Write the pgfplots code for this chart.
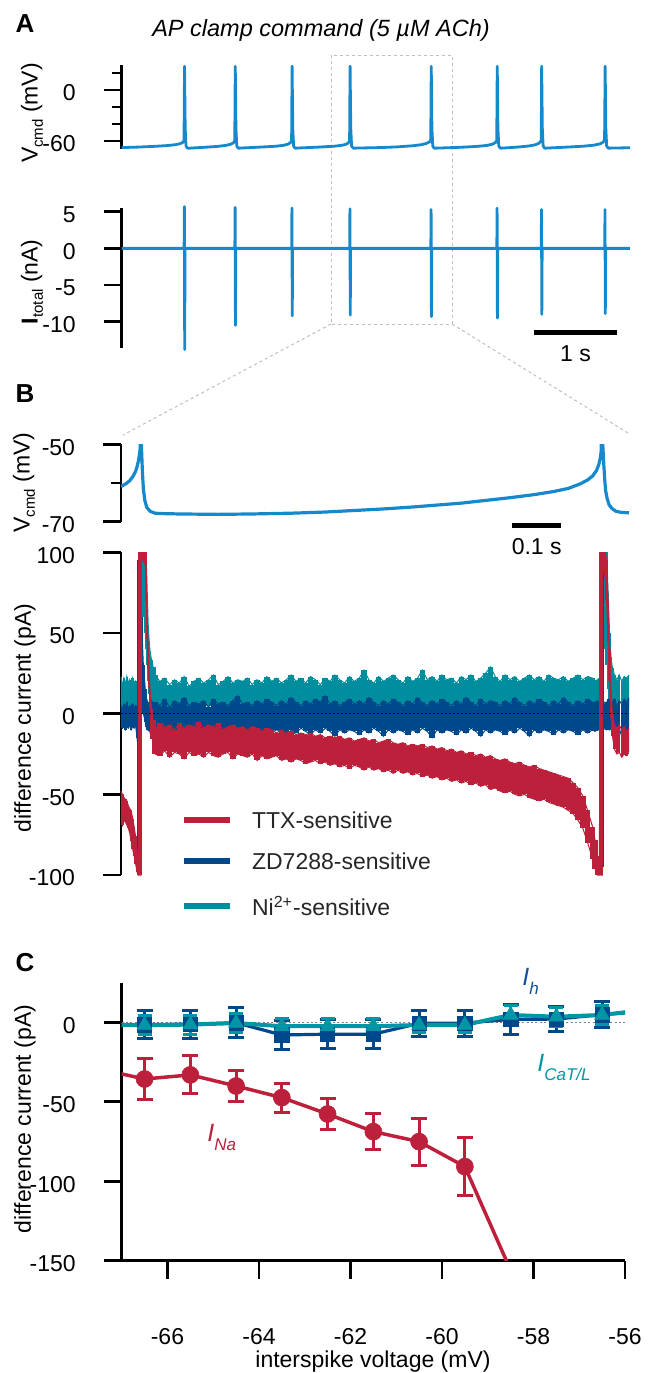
\documentclass[border=0pt]{standalone}
\usepackage{fontspec}
\setmainfont{Liberation Sans}
\usepackage{pgfplots}
\usepackage{pgfplotstable}
\pgfplotsset{compat=1.18}

\definecolor{trace}{RGB}{22,136,204}
\definecolor{cRed}{RGB}{188,32,58}
\definecolor{cBlue}{RGB}{0,72,140}
\definecolor{cTeal}{RGB}{0,142,158}
\definecolor{cTealC}{RGB}{0,150,165}
\definecolor{cBlueL}{RGB}{20,82,160}
\definecolor{boxgray}{RGB}{190,190,190}

\newcommand{\fs}{\fontsize{11.5}{13.8}\selectfont}
\newcommand{\sub}[1]{\raisebox{-2.6pt}{\fontsize{7.5}{8}\selectfont #1}}

\pgfplotsset{
  panel/.style={
    scale only axis,
    axis x line=none, axis y line=left, xtick=\empty,
    axis line style={-, line width=1.35pt, black},
    y axis line style={-},
    tick align=outside,
    major tick length=9pt, minor tick length=5pt,
    tick style={line width=1.35pt, black},
    tick label style={font=\fs},
    yticklabel style={anchor=east, inner sep=0pt, xshift=-13.8pt, yshift=-1.5pt},
  },
  band/.style n args={3}{#1, draw=none, mark=none, forget plot,
    restrict x to domain=#2,
    error bars/.cd, y dir=minus, y explicit, error mark=none,
    error bar style={draw=#1, line width=#3, line cap=butt, solid}},
}

% B panel difference currents (t in ms, pA): TTX upper/lower, ZD upper/lower, Ni upper/lower
\pgfplotstableread{
t ru rl bu bl nu nl
0 -48 -64 5 -8 23 3
3 -50 -69 3 -9 17 2
6 -52 -66 6 -7 22 4
9 -53 -67 4 -10 18 2
12 -54 -69 7 -8 23 3
15 -57 -71 3 -9 19 2
18 -59 -74 5 -7 21 4
21 -60 -79 4 -10 17 3
24 -65 -84 6 -8 22 2
27 -70 -88 3 -9 18 3
30 -76 -93 5 -7 20 2
33 -85 -98 4 -15 16 -4
35 -92 -100 3 -10 12 -5
36 -97 -100 95 -95 10 -5
37 -100 -100 2 -8 15 0
38 100 -100 3 -6 40 5
40 100 -100 90 -5 100 10
41 100 -100 90 20 100 30
42 100 95 60 10 100 50
46 100 95 30 0 100 60
50 100 92 15 -5 100 50
52 90 70 10 -8 95 40
54 58 46 8 -10 75 30
56 40 28 6 -9 55 20
58 26 16 7 -11 45 12
60 14 4 5 -8 38 8
63 3 -7 8 -10 33 6
66 -4 -16 6 -12 29 5
70 -9 -25 7 -10 24 4
80 -6 -26 5 -12 20 3
90 -8 -23 9 -9 22 5
100 -7 -27 4 -11 18 3
110 -10 -24 8 -14 21 4
120 -6 -25 6 -9 19 2
130 -9 -28 10 -11 23 5
140 -7 -24 5 -10 17 3
150 -8 -26 7 -13 20 4
160 -5 -25 6 -9 22 4
170 -9 -27 8 -11 19 2
180 -7 -24 4 -10 21 5
190 -8 -26 9 -15 24 3
200 -6 -27 6 -9 18 4
210 -10 -25 7 -12 20 3
220 -8 -24 5 -10 23 5
230 -7 -28 8 -11 19 4
240 -9 -25 11 -13 21 3
250 -8 -26 6 -9 20 4
260 -10 -27 7 -12 22 5
270 -8 -25 5 -10 18 3
280 -9 -29 8 -11 21 4
290 -11 -26 6 -14 19 3
300 -9 -28 9 -9 23 5
310 -10 -27 7 -12 20 4
320 -12 -26 5 -10 22 3
330 -10 -29 8 -11 19 4
340 -12 -28 6 -16 21 5
350 -11 -30 10 -10 24 3
360 -13 -28 7 -12 20 4
370 -12 -29 5 -9 22 4
380 -13 -31 8 -11 19 3
390 -12 -30 6 -13 23 5
400 -14 -29 9 -10 21 4
410 -13 -31 7 -12 18 3
420 -15 -30 11 -9 22 4
430 -14 -32 6 -11 20 5
440 -15 -31 8 -14 24 3
450 -14 -33 5 -10 21 4
460 -16 -32 7 -12 19 4
470 -15 -34 9 -10 23 5
480 -17 -32 6 -11 20 3
490 -16 -33 8 -13 22 4
500 -15 -35 6 -10 27 5
510 -17 -33 10 -12 21 4
520 -16 -35 7 -9 19 3
530 -18 -34 5 -11 23 4
540 -17 -36 8 -14 20 5
550 -16 -35 6 -10 22 4
560 -18 -37 9 -12 24 3
570 -19 -35 7 -10 21 5
580 -18 -37 5 -11 19 4
590 -20 -36 8 -13 23 4
600 -19 -38 6 -10 20 3
610 -20 -37 10 -12 22 5
620 -19 -39 7 -9 27 4
630 -21 -38 5 -11 21 4
640 -20 -40 8 -15 23 5
650 -22 -39 6 -10 20 3
660 -21 -41 9 -12 24 4
670 -23 -40 7 -10 21 5
680 -22 -42 5 -11 22 4
690 -24 -41 8 -13 19 3
700 -23 -43 6 -10 23 5
710 -25 -42 10 -12 21 4
720 -24 -44 7 -9 24 4
730 -26 -43 5 -11 20 5
740 -25 -45 9 -14 22 3
750 -27 -44 6 -10 25 4
760 -26 -47 8 -12 29 5
770 -28 -46 7 -10 23 4
780 -29 -48 5 -11 20 3
790 -28 -49 8 -13 24 5
800 -30 -48 6 -10 21 4
810 -31 -50 10 -12 23 4
820 -30 -51 7 -9 20 5
830 -32 -50 5 -11 22 3
840 -33 -52 8 -14 24 4
850 -32 -53 6 -10 21 5
860 -34 -54 9 -12 23 4
870 -35 -53 7 -10 20 4
880 -36 -55 5 -11 24 5
890 -37 -56 8 -13 22 3
900 -38 -57 6 -10 21 4
910 -39 -58 10 -12 23 5
920 -40 -60 7 -10 20 4
930 -43 -62 5 -11 22 4
940 -46 -66 8 -13 24 5
950 -51 -71 6 -10 21 3
960 -60 -80 9 -12 23 4
970 -70 -90 7 -10 22 4
975 -78 -96 6 -11 20 4
980 -88 -100 8 -10 21 3
984 -100 -100 7 -10 22 4
986 100 -100 8 -11 20 3
988 100 -100 95 -95 30 5
990 100 -100 10 -10 100 10
991 100 90 100 -95 100 20
992 100 90 8 -10 100 30
996 100 85 6 -9 100 40
999 95 70 7 -10 100 30
1002 70 45 9 -8 75 15
1005 40 20 8 -10 50 8
1008 15 -2 10 -9 35 5
1011 0 -14 6 -12 28 4
1015 -7 -22 9 -10 24 5
1020 -9 -25 5 -12 21 4
1025 -7 -24 8 -9 24 3
1030 -10 -27 6 -14 20 5
1035 -8 -25 9 -10 23 4
1040 -11 -26 7 -11 22 4
1045 -9 -24 10 -8 24 5
}\Bdata

\begin{document}
\begin{tikzpicture}
\useasboundingbox (0,0) rectangle (329pt,-686.5pt);

% zoom box and connectors
\draw[boxgray, line width=0.5pt, dash pattern=on 1.5pt off 1.5pt] (165.5pt,-27.5pt) rectangle (226pt,-162pt);
\draw[boxgray, line width=0.5pt, dash pattern=on 1.5pt off 1.5pt] (165.5pt,-162pt) -- (61.5pt,-217.5pt);
\draw[boxgray, line width=0.5pt, dash pattern=on 1.5pt off 1.5pt] (226pt,-162pt) -- (314pt,-216.5pt);

% ---------- A top ----------
\begin{axis}[panel, at={(60.85pt,-32.5pt)}, anchor=north west,
  width=254.15pt, height=41.85pt,
  xmin=0, xmax=6.1, ymin=-69.1, ymax=29.4, clip=false,
  ytick={-60,0}, yticklabels={-60,0}, minor ytick={-40,-20,20}]
\addplot[trace, line width=1.4pt, line join=round, mark=none] coordinates {
(0,-67.8)(0.2,-67.2)(0.4,-66.3)(0.55,-65.4)(0.65,-64.3)(0.70,-63.2)(0.735,-61.5)(0.748,-59.5)(0.754,28)
(0.762,-45)(0.772,-66)(0.79,-68.6)(0.85,-68.3)
(1.0,-67.4)(1.15,-66.4)(1.25,-65.2)(1.31,-63.8)(1.345,-61.8)(1.357,-59.5)(1.363,28)
(1.371,-45)(1.381,-66)(1.40,-68.5)(1.46,-68.2)
(1.65,-67.3)(1.85,-66.2)(1.95,-65)(2.0,-63.6)(2.027,-61.8)(2.039,-59.5)(2.045,28)
(2.053,-45)(2.063,-66)(2.08,-68.5)(2.14,-68.2)
(2.35,-67.3)(2.55,-66.2)(2.65,-65)(2.70,-63.6)(2.723,-61.8)(2.735,-59.5)(2.741,28)
(2.749,-45)(2.759,-66)(2.78,-68.5)(2.85,-68.3)
(3.1,-67.8)(3.3,-67.0)(3.5,-65.6)(3.6,-64.3)(3.66,-62.8)(3.695,-61)(3.709,-59)(3.715,28)
(3.723,-45)(3.733,-66)(3.75,-68.5)(3.82,-68.3)
(4.05,-67.5)(4.25,-66.5)(4.38,-65.3)(4.45,-63.8)(4.485,-61.8)(4.501,-59.5)(4.507,28)
(4.515,-45)(4.525,-66)(4.545,-68.5)(4.6,-68.2)
(4.75,-67.2)(4.88,-66)(4.96,-64.6)(5.005,-62.8)(5.025,-61)(5.035,-59.3)(5.04,28)
(5.048,-45)(5.058,-66)(5.075,-68.5)(5.14,-68.2)
(5.35,-67.2)(5.55,-66.1)(5.67,-64.9)(5.74,-63.4)(5.775,-61.6)(5.795,-59.5)(5.802,28)
(5.81,-45)(5.82,-66)(5.84,-68.5)(5.9,-68.3)(6.1,-68)};
\end{axis}

% ---------- A bottom ----------
\begin{axis}[panel, at={(60.85pt,-103.85pt)}, anchor=north west,
  width=254.15pt, height=70.15pt,
  xmin=0, xmax=6.1, ymin=-13.59, ymax=5.55, clip=false,
  ytick={-10,-5,0,5}, yticklabels={-10,-5,0,5}]
\addplot[trace, line width=1.4pt, line join=round, mark=none] coordinates {
(0,0)(0.749,0)(0.752,5.7)(0.756,-13.8)(0.76,0)
(1.358,0)(1.361,5.6)(1.365,-10.5)(1.369,0)
(2.04,0)(2.043,5.5)(2.047,-9.2)(2.051,0)
(2.736,0)(2.739,5.4)(2.743,-9.1)(2.747,0)
(3.71,0)(3.713,5.3)(3.717,-9.3)(3.721,0)
(4.502,0)(4.505,5.5)(4.509,-9.5)(4.513,0)
(5.035,0)(5.038,5.3)(5.042,-9.0)(5.046,0)
(5.797,0)(5.8,5.3)(5.804,-8.9)(5.808,0)(6.1,0)};
\end{axis}

% ---------- B top ----------
\begin{axis}[panel, at={(60.5pt,-222.15pt)}, anchor=north west,
  width=254pt, height=38.7pt,
  xmin=0, xmax=1045, ymin=-70, ymax=-50,
  ytick={-70,-50}, yticklabels={-70,-50}, minor ytick={-60}]
\addplot[trace, line width=1.6pt, line join=round, mark=none] coordinates {
(0,-60.9)(10,-60.2)(18,-59.4)(25,-58.2)(30,-57)(33,-55.8)(36,-54.2)(38,-52.6)(39.5,-51)(40.5,0)(42,-50.5)
(44,-57)(46,-61.5)(49,-64.5)(53,-66.3)(60,-67.3)(70,-67.8)(85,-67.9)(120,-68)(200,-68.1)(270,-68.0)
(350,-67.8)(420,-67.5)(480,-67.1)(540,-66.7)(600,-66.2)(650,-65.7)(700,-65.2)(750,-64.5)(800,-63.8)
(850,-63)(890,-62.2)(920,-61.4)(945,-60.2)(960,-59.2)(970,-58.2)(978,-56.8)(983,-55.2)(986,-53.5)
(988,-51.5)(989,0)(991,-50)(993,-55)(995,-59)(997,-62)(1000,-64)(1004,-65.6)(1010,-66.6)(1018,-67.3)
(1030,-67.6)(1045,-67.7)};
\end{axis}

% ---------- B main ----------
\begin{axis}[panel, at={(60.5pt,-276.15pt)}, anchor=north west,
  width=254pt, height=161.35pt,
  xmin=0, xmax=1045, ymin=-100, ymax=100,
  ytick={-100,-50,0,50,100}, yticklabels={-100,-50,0,50,100}]
% Ni2+-sensitive
\addplot[band={cTeal}{64:982}{2.7pt}] table[x=t, y=nu, y error minus expr=\thisrow{nu}-\thisrow{nl}]{\Bdata};
\addplot[band={cTeal}{0:66}{1.2pt}] table[x=t, y=nu, y error minus expr=\thisrow{nu}-\thisrow{nl}]{\Bdata};
\addplot[band={cTeal}{980:1045}{1.2pt}] table[x=t, y=nu, y error minus expr=\thisrow{nu}-\thisrow{nl}]{\Bdata};
\addplot[cTeal, line width=0.5pt, mark=none] table[x=t, y=nu]{\Bdata};
% ZD7288-sensitive
\addplot[band={cBlue}{64:982}{2.7pt}] table[x=t, y=bu, y error minus expr=\thisrow{bu}-\thisrow{bl}]{\Bdata};
\addplot[band={cBlue}{0:66}{1.2pt}] table[x=t, y=bu, y error minus expr=\thisrow{bu}-\thisrow{bl}]{\Bdata};
\addplot[band={cBlue}{980:1045}{1.2pt}] table[x=t, y=bu, y error minus expr=\thisrow{bu}-\thisrow{bl}]{\Bdata};
\addplot[cBlue, line width=0.5pt, mark=none] table[x=t, y=bu]{\Bdata};
\addplot[cBlue, line width=0.5pt, mark=none] table[x=t, y=bl]{\Bdata};
% TTX-sensitive
\addplot[band={cRed}{64:982}{2.7pt}] table[x=t, y=ru, y error minus expr=\thisrow{ru}-\thisrow{rl}]{\Bdata};
\addplot[band={cRed}{0:66}{1.2pt}] table[x=t, y=ru, y error minus expr=\thisrow{ru}-\thisrow{rl}]{\Bdata};
\addplot[band={cRed}{980:1045}{1.2pt}] table[x=t, y=ru, y error minus expr=\thisrow{ru}-\thisrow{rl}]{\Bdata};
\addplot[cRed, line width=0.5pt, mark=none] table[x=t, y=ru]{\Bdata};
\addplot[cRed, line width=0.5pt, mark=none] table[x=t, y=rl]{\Bdata};
\addplot[black, line width=0.6pt, dash pattern=on 0.8pt off 1.2pt, mark=none] coordinates {(0,0)(1045,0)};
\end{axis}

% ---------- C ----------
\begin{axis}[scale only axis, at={(60.85pt,-491.65pt)}, anchor=north west,
  width=251.65pt, height=138.7pt,
  xmin=-67, xmax=-56, ymin=-150, ymax=24.5,
  axis x line=bottom, axis y line=left,
  axis line style={-, line width=1.35pt, black},
  x axis line style={-}, y axis line style={-},
  tick align=outside, major tick length=9pt,
  tick style={line width=1.35pt, black},
  tick label style={font=\fs},
  ytick={-150,-100,-50,0}, yticklabels={-150,-100,-50,0},
  xtick={-66,-64,-62,-60,-58,-56}, xticklabels={-66,-64,-62,-60,-58,-56},
  yticklabel style={anchor=east, inner sep=0pt, xshift=-13.8pt, yshift=-1.5pt},
  xticklabel style={anchor=center, inner sep=0pt, yshift=-28.9pt},
  clip=true]
\addplot[gray, line width=0.6pt, dash pattern=on 1pt off 1.2pt, mark=none] coordinates {(-67,0)(-56,0)};
% I_Na
\addplot[cRed, line width=1.75pt, mark=none] coordinates {
(-67.5,-29.3)(-66.5,-35.7)(-65.5,-33.1)(-64.5,-40.1)(-63.5,-47.4)(-62.5,-57.7)(-61.5,-68.8)(-60.5,-75.1)(-59.5,-90.8)(-58.5,-156)};
\addplot[cRed, only marks, mark=*, mark size=4.25pt, mark options={solid, line width=0.3pt},
  error bars/.cd, y dir=both, y explicit,
  error bar style={line width=1.5pt, cRed, solid},
  error mark options={rotate=90, line width=1.5pt, mark size=4pt, cRed, solid}] coordinates {
(-66.5,-35.7) +- (0,12.8)
(-65.5,-33.1) +- (0,12)
(-64.5,-40.1) +- (0,10)
(-63.5,-47.4) +- (0,9.1)
(-62.5,-57.7) +- (0,10)
(-61.5,-68.8) +- (0,11.5)
(-60.5,-75.1) +- (0,14.7)
(-59.5,-90.8) +- (0,18)};
% I_h
\addplot[cBlue, line width=1.6pt, mark=none] coordinates {
(-67.5,-1.5)(-66.5,-1.5)(-65.5,-1.2)(-64.5,-0.3)(-63.5,-8)(-62.5,-7.5)(-61.5,-7.5)(-60.5,-0.7)(-59.5,-0.5)(-58.5,1.8)(-57.5,2)(-56.5,4.8)(-55.5,7)};
\addplot[cBlue, only marks, mark=square*, mark size=3.6pt, mark options={solid, line width=0.3pt},
  error bars/.cd, y dir=both, y explicit,
  error bar style={line width=1.5pt, cBlue, solid},
  error mark options={rotate=90, line width=1.5pt, mark size=4pt, cBlue, solid}] coordinates {
(-66.5,-1.5) +- (0,8.6)
(-65.5,-1.2) +- (0,8.9)
(-64.5,-0.3) +- (0,9.5)
(-63.5,-8) +- (0,9.4)
(-62.5,-7.5) +- (0,9)
(-61.5,-7.5) +- (0,9)
(-60.5,-0.7) +- (0,8.4)
(-59.5,-0.5) +- (0,8.2)
(-58.5,1.8) +- (0,9.2)
(-57.5,2) +- (0,7.9)
(-56.5,4.8) +- (0,8.2)};
% I_CaT/L
\addplot[cTealC, line width=2pt, mark=none] coordinates {
(-67.5,-1.5)(-66.5,-1.8)(-65.5,-1.5)(-64.5,-0.5)(-63.5,-2.5)(-62.5,-2.5)(-61.5,-2.5)(-60.5,-1.7)(-59.5,-1.7)(-58.5,4.6)(-57.5,3.5)(-56.5,4.6)(-55.5,8)};
\addplot[cTealC, only marks, mark=triangle*, mark size=4.3pt, mark options={solid, line width=0.3pt},
  error bars/.cd, y dir=both, y explicit,
  error bar style={line width=1.5pt, cTealC, solid},
  error mark options={rotate=90, line width=1.5pt, mark size=3.5pt, cTealC, solid}] coordinates {
(-66.5,-1.8) +- (0,6)
(-65.5,-1.5) +- (0,6)
(-64.5,-0.5) +- (0,6)
(-63.5,-2.5) +- (0,5)
(-62.5,-2.5) +- (0,5)
(-61.5,-2.5) +- (0,5)
(-60.5,-1.7) +- (0,5)
(-59.5,-1.7) +- (0,5)
(-58.5,4.6) +- (0,6)
(-57.5,3.5) +- (0,6)
(-56.5,4.6) +- (0,6)};
\end{axis}

% scale bars
\draw[black, line width=2.5pt] (266.95pt,-166.15pt) -- (308.6pt,-166.15pt);
\node[font=\fs] at (287.75pt,-176.65pt) {1 s};
\draw[black, line width=2.5pt] (256.1pt,-262.9pt) -- (280.4pt,-262.9pt);
\node[font=\fs] at (268.35pt,-273.35pt) {0.1 s};

% legend
\draw[cRed, line width=3.25pt] (92pt,-410pt) -- (115pt,-410pt);
\node[font=\fs, anchor=west, black!85] at (122.5pt,-410pt) {TTX-sensitive};
\draw[cBlue, line width=3.25pt] (92pt,-430.5pt) -- (115pt,-430.5pt);
\node[font=\fs, anchor=west, black!85] at (122.5pt,-430.5pt) {ZD7288-sensitive};
\draw[cTeal, line width=3.25pt] (92pt,-453pt) -- (115pt,-453pt);
\node[font=\fs, anchor=west, black!85] at (122.5pt,-453pt) {Ni\textsuperscript{2+}-sensitive};

% C labels
\node[anchor=base west, cBlueL, inner sep=0pt] at (261pt,-492.5pt) {\fontsize{12.5}{14}\selectfont\itshape I\raisebox{-4.5pt}{\fontsize{8.5}{9}\selectfont h}};
\node[anchor=base west, cTealC, inner sep=0pt] at (268.5pt,-535.85pt) {\fontsize{12.5}{14}\selectfont\itshape I\raisebox{-4.5pt}{\fontsize{8.5}{9}\selectfont CaT/L}};
\node[anchor=base west, cRed, inner sep=0pt] at (103.5pt,-570.85pt) {\fontsize{12.5}{14}\selectfont\itshape I\raisebox{-4.5pt}{\fontsize{8.5}{9}\selectfont Na}};

% axis labels
\node[rotate=90, font=\fs] at (16pt,-56.5pt) {V\sub{cmd} (mV)};
\node[rotate=90, font=\fs] at (16pt,-140.85pt) {\textbf{I}\sub{total} (nA)};
\node[rotate=90, font=\fs] at (12pt,-241.25pt) {V\sub{cmd} (mV)};
\node[rotate=90, font=\fs] at (12.5pt,-359pt) {difference current (pA)};
\node[rotate=90, font=\fs] at (12.5pt,-559.5pt) {difference current (pA)};
\node[anchor=base, font=\fs] at (186.5pt,-683.85pt) {interspike voltage (mV)};

% title and panel letters
\node[font=\fontsize{11.75}{14}\selectfont\itshape] at (160.5pt,-15pt) {AP clamp command (5 µM ACh)};
\node[font=\fontsize{13}{15}\selectfont\bfseries] at (12.5pt,-12pt) {A};
\node[font=\fontsize{13}{15}\selectfont\bfseries] at (12.5pt,-197pt) {B};
\node[font=\fontsize{13}{15}\selectfont\bfseries] at (12.5pt,-481.5pt) {C};
\end{tikzpicture}
\end{document}
